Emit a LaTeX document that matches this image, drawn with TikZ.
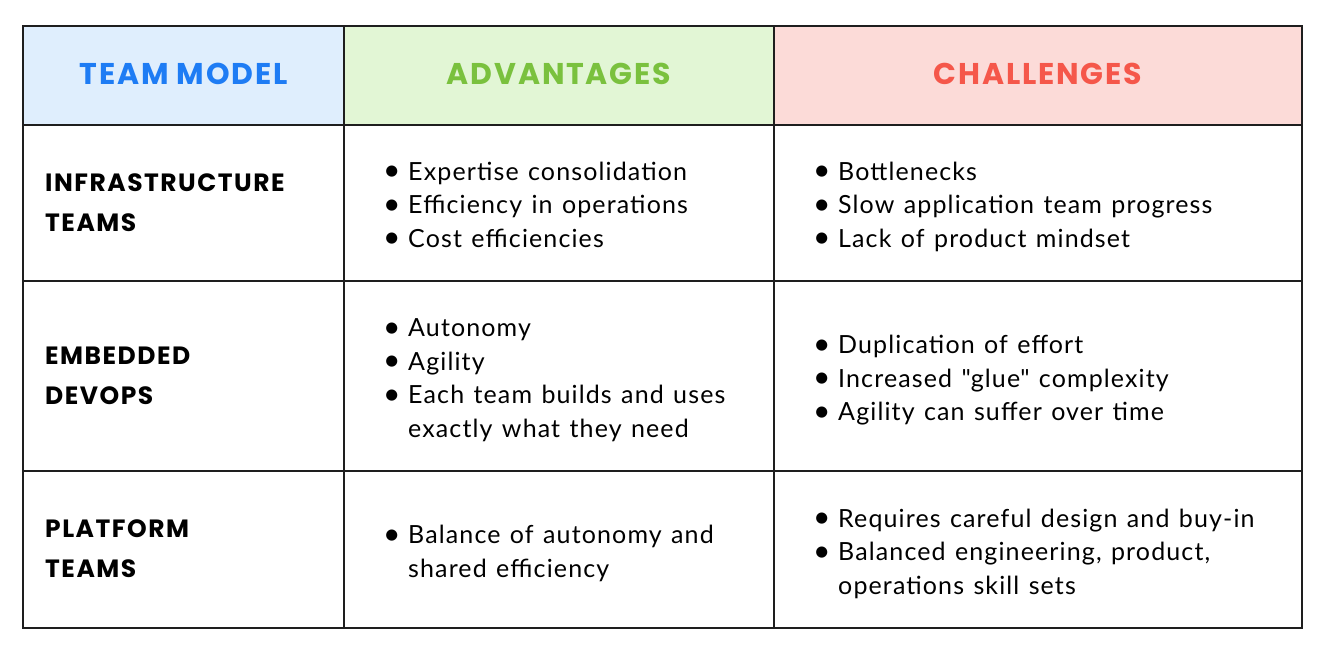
\documentclass[tikz,border=0pt]{standalone}
\usepackage{fontspec}
\setmainfont[LetterSpace=4.5,WordSpace=1.25]{Lato}
\newfontfamily\headfont[LetterSpace=6]{Poppins}
\usetikzlibrary{positioning}
\definecolor{hblue}{HTML}{DFEEFD}
\definecolor{hgreen}{HTML}{E2F6D5}
\definecolor{hpink}{HTML}{FCDBD8}
\definecolor{tblue}{HTML}{1E7CF4}
\definecolor{tgreen}{HTML}{7AC13E}
\definecolor{tred}{HTML}{F5574A}
\definecolor{gridc}{HTML}{1E1E1E}
\newcommand\bu{\strut\makebox[23pt][l]{\hspace*{-2pt}\raisebox{-0.5pt}{\scalebox{1.2}{\textbullet}}}}
\newcommand\ind{\strut\hspace*{23pt}}
\begin{document}
\begin{tikzpicture}[x=1pt,y=-1pt,
  gridline/.style={draw=gridc,line width=2.4pt},
  headtxt/.style={font=\headfont\bfseries\fontsize{30}{30}\selectfont,inner sep=0pt,anchor=center},
  rowtxt/.style={font=\headfont\bfseries\fontsize{25}{40}\selectfont,inner sep=0pt,anchor=west,align=left},
  celltxt/.style={font=\fontsize{25}{33.5}\selectfont,inner sep=0pt,anchor=west,align=left}]
\useasboundingbox (0,0) rectangle (1328,654);
\fill[white] (0,0) rectangle (1328,654);
% header fills
\fill[hblue] (23,26) rectangle (344,125);
\fill[hgreen] (344,26) rectangle (774,125);
\fill[hpink] (774,26) rectangle (1302,125);
% grid
\draw[gridline] (23,26) rectangle (1302,628);
\draw[gridline] (344,26) -- (344,628);
\draw[gridline] (774,26) -- (774,628);
\draw[gridline] (23,125) -- (1302,125);
\draw[gridline] (23,281) -- (1302,281);
\draw[gridline] (23,471) -- (1302,471);
% headers
\node[headtxt,text=tblue] (h1) at (183.5,74) {TEAM MODEL};
\node[headtxt,text=tgreen] (h2) at (559,74) {ADVANTAGES};
\node[headtxt,text=tred] (h3) at (1038,74) {CHALLENGES};
% row labels
\node[rowtxt] (r1) at (45,203) {INFRASTRUCTURE\\TEAMS};
\node[rowtxt] (r2) at (45,376) {EMBEDDED\\DEVOPS};
\node[rowtxt] (r3) at (45,549) {PLATFORM\\TEAMS};
% advantages
\node[celltxt] (a1) at (385,207) {\bu Expertise consolidation\\\bu Efficiency in operations\\\bu Cost efficiencies};
\node[celltxt] (a2) at (385,380.5) {\bu Autonomy\\\bu Agility\\\bu Each team builds and uses\\\ind exactly what they need};
\node[celltxt] (a3) at (385,554) {\bu Balance of autonomy and\\\ind shared efficiency};
% challenges
\node[celltxt] (c1) at (815,207) {\bu Bottlenecks\\\bu Slow application team progress\\\bu Lack of product mindset};
\node[celltxt] (c2) at (815,380.5) {\bu Duplication of effort\\\bu Increased \textquotedbl glue\textquotedbl\ complexity\\\bu Agility can suffer over time};
\node[celltxt] (c3) at (815,554) {\bu Requires careful design and buy-in\\\bu Balanced engineering, product,\\\ind operations skill sets};
\end{tikzpicture}
\end{document}
